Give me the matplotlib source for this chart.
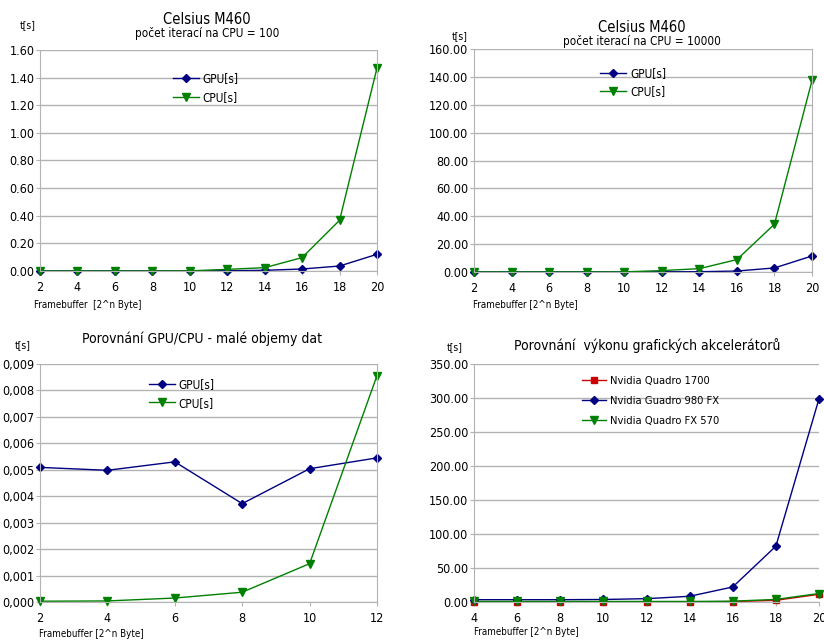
import matplotlib.pyplot as plt
from matplotlib.ticker import FuncFormatter

plt.rcParams['font.family'] = ['DejaVu Sans']
plt.rcParams['font.stretch'] = 'condensed'

# data
n_big = [2, 4, 6, 8, 10, 12, 14, 16, 18, 20]
gpu_100 = [0.001, 0.001, 0.001, 0.001, 0.001, 0.002, 0.005, 0.0145, 0.036, 0.121]
cpu_100 = [0.0, 0.0, 0.0, 0.0, 0.001, 0.012, 0.024, 0.097, 0.367, 1.47]
gpu_10000 = [0.1, 0.1, 0.1, 0.1, 0.1, 0.15, 0.2, 0.7, 2.9, 11.5]
cpu_10000 = [0.0, 0.0, 0.0, 0.0, 0.1, 1.0, 2.4, 8.9, 34.3, 137.4]

n_small = [2, 4, 6, 8, 10, 12]
gpu_small = [0.00509, 0.00498, 0.00530, 0.00372, 0.00504, 0.00545]
cpu_small = [0.00003, 0.00004, 0.00015, 0.00037, 0.00145, 0.00856]

n_acc = [4, 6, 8, 10, 12, 14, 16, 18, 20]
quadro_1700 = [0.3, 0.3, 0.3, 0.3, 0.3, 0.3, 0.6, 2.5, 11.3]
quadro_980 = [3.4, 3.4, 3.4, 3.7, 4.9, 8.4, 22.1, 82.1, 298.9]
quadro_570 = [0.8, 0.8, 0.8, 0.8, 0.8, 0.8, 1.2, 3.8, 12.5]

NAVY = '#000080'
GREEN = '#008000'
RED = '#cc0000'
GRID = '#b3b3b3'

W, H = 824, 641
fig = plt.figure(figsize=(W / 100, H / 100), dpi=100)


def make_ax(left, right, top, bottom):
    ax = fig.add_axes([left / W, 1 - bottom / H, (right - left) / W, (bottom - top) / H])
    ax.grid(axis='y', color=GRID, linewidth=1)
    ax.set_axisbelow(True)
    ax.spines['top'].set_visible(False)
    for s in ['left', 'right', 'bottom']:
        ax.spines[s].set_color(GRID)
    ax.tick_params(labelsize=9, length=3, color=GRID, pad=1)
    ax.tick_params(axis='x', pad=4)
    return ax


def px_text(x, y, s, **kw):
    fig.text(x / W, 1 - y / H, s, **kw)


def legend(ax, x, y, size=8.5, spacing=0.45):
    ax.legend(loc='upper left', bbox_to_anchor=(x, y), frameon=False, fontsize=size,
              handlelength=2.2, handletextpad=0.3, labelspacing=spacing, borderaxespad=0)


# panel 1
ax1 = make_ax(40, 377, 50, 271)
ax1.plot(n_big, gpu_100, color=NAVY, marker='D', markersize=4, linewidth=1, label='GPU[s]')
ax1.plot(n_big, cpu_100, color=GREEN, marker='v', markersize=6, linewidth=1, label='CPU[s]')
ax1.set_xlim(2, 20)
ax1.set_ylim(0, 1.6)
ax1.set_xticks(n_big)
ax1.set_yticks([i * 0.2 for i in range(9)])
ax1.yaxis.set_major_formatter(FuncFormatter(lambda v, p: f'{v:.2f}'))
legend(ax1, 0.38, 0.92)
px_text(207, 20, 'Celsius M460', ha='center', va='center', fontsize=10.5)
px_text(207, 34, 'počet iterací na CPU = 100', ha='center', va='center', fontsize=8.5)
px_text(20, 25, 't[s]', ha='left', va='center', fontsize=7.5)
px_text(34, 305, 'Framebuffer  [2^n Byte]', ha='left', va='center', fontsize=7)

# panel 2
ax2 = make_ax(474, 812, 49, 272)
ax2.plot(n_big, gpu_10000, color=NAVY, marker='D', markersize=4, linewidth=1, label='GPU[s]')
ax2.plot(n_big, cpu_10000, color=GREEN, marker='v', markersize=6, linewidth=1, label='CPU[s]')
ax2.set_xlim(2, 20)
ax2.set_ylim(0, 160)
ax2.set_xticks(n_big)
ax2.set_yticks(range(0, 161, 20))
ax2.yaxis.set_major_formatter(FuncFormatter(lambda v, p: f'{v:.2f}'))
legend(ax2, 0.36, 0.94)
px_text(642, 27, 'Celsius M460', ha='center', va='center', fontsize=10.5)
px_text(642, 41, 'počet iterací na CPU = 10000', ha='center', va='center', fontsize=8.5)
px_text(452, 36, 't[s]', ha='left', va='center', fontsize=7.5)
px_text(473, 305, 'Framebuffer [2^n Byte]', ha='left', va='center', fontsize=7)

# panel 3
ax3 = make_ax(40, 377, 364, 602)
ax3.plot(n_small, gpu_small, color=NAVY, marker='D', markersize=4, linewidth=1, label='GPU[s]')
ax3.plot(n_small, cpu_small, color=GREEN, marker='v', markersize=6, linewidth=1, label='CPU[s]')
ax3.set_xlim(2, 12)
ax3.set_ylim(0, 0.009)
ax3.set_xticks(n_small)
ax3.set_yticks([i * 0.001 for i in range(10)])
ax3.yaxis.set_major_formatter(FuncFormatter(lambda v, p: f'{v:.3f}'.replace('.', ',')))
legend(ax3, 0.31, 0.96)
px_text(202, 339, 'Porovnání GPU/CPU - malé objemy dat', ha='center', va='center', fontsize=10)
px_text(15, 345, 't[s]', ha='left', va='center', fontsize=7.5)
px_text(39, 634, 'Framebuffer [2^n Byte]', ha='left', va='center', fontsize=7)

# panel 4
ax4 = make_ax(474, 819, 364, 602)
ax4.plot(n_acc, quadro_1700, color=RED, marker='s', markersize=5, linewidth=1, label='Nvidia Quadro 1700')
ax4.plot(n_acc, quadro_980, color=NAVY, marker='D', markersize=4, linewidth=1, label='Nvidia Guadro 980 FX')
ax4.plot(n_acc, quadro_570, color=GREEN, marker='v', markersize=6, linewidth=1, label='Nvidia Quadro FX 570')
ax4.set_xlim(4, 20)
ax4.set_ylim(0, 350)
ax4.set_xticks(n_acc)
ax4.set_yticks(range(0, 351, 50))
ax4.yaxis.set_major_formatter(FuncFormatter(lambda v, p: f'{v:.2f}'))
ax4.spines['right'].set_visible(False)
legend(ax4, 0.3, 0.97, size=8, spacing=0.9)
px_text(647, 346, 'Porovnání  výkonu grafických akcelerátorů', ha='center', va='center', fontsize=10)
px_text(447, 347, 't[s]', ha='left', va='center', fontsize=7.5)
px_text(474, 632, 'Framebuffer [2^n Byte]', ha='left', va='center', fontsize=7)

for ax in [ax1, ax2, ax3, ax4]:
    for a in ax.get_lines():
        a.set_clip_on(False)

fig.savefig('out.png', dpi=100)
